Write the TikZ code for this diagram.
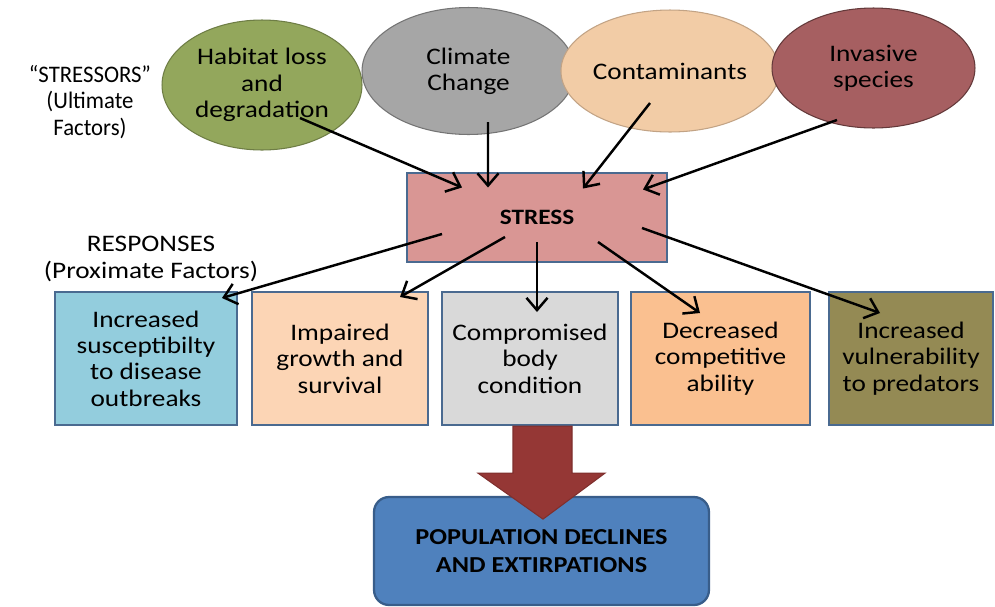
\documentclass[tikz,border=0pt]{standalone}
\usepackage{fontspec}
\setmainfont{Carlito}[FakeStretch=1.15]
\newfontfamily\narrowfont{Carlito}[FakeStretch=0.96, Ligatures=TeX]
\usepackage{xcolor}
\usetikzlibrary{arrows.meta, calc, shapes.geometric}

\definecolor{habgreen}{HTML}{93A75C}
\definecolor{climgray}{HTML}{A6A6A6}
\definecolor{contpeach}{HTML}{F2CCA6}
\definecolor{invred}{HTML}{A65F61}
\definecolor{stresspink}{HTML}{D99694}
\definecolor{boxline}{HTML}{4A6A90}
\definecolor{suscblue}{HTML}{93CDDD}
\definecolor{growthpeach}{HTML}{FCD5B5}
\definecolor{bodygray}{HTML}{D9D9D9}
\definecolor{compor}{HTML}{FAC090}
\definecolor{predolive}{HTML}{948A54}
\definecolor{bigred}{HTML}{953735}
\definecolor{popblue}{HTML}{4F81BD}
\definecolor{popline}{HTML}{385D8A}

\begin{document}
\begin{tikzpicture}[x=0.02cm, y=-0.02cm,
    txt/.style={font=\fontsize{13.5}{15}\selectfont, align=center},
    stressor/.style={ellipse, draw, txt, inner sep=0pt, line width=0.6pt},
    resp/.style={draw=boxline, line width=1.3pt, txt, inner sep=0pt,
        minimum height=2.66cm},
    lbl/.style={txt},
    arr/.style={-{Straight Barb[length=7pt,width=12pt]}, line width=1.4pt},
]
\useasboundingbox[fill=white] (0,0) rectangle (995,606);

% ---- stressors ----
\node[lbl, font=\fontsize{13.5}{15}\selectfont\narrowfont] (stressors)
    at (90,102) {“STRESSORS”\\(Ultimate\\Factors)};
\node[stressor, fill=habgreen, draw=habgreen!75!black,
    minimum width=4cm, minimum height=2.6cm] (hab) at (262,85)
    {Habitat loss\\and\\degradation};
\node[stressor, fill=climgray, draw=climgray!70!black,
    minimum width=4.26cm, minimum height=2.54cm] (clim) at (468.5,71)
    {Climate\\Change};
\node[stressor, fill=contpeach, draw=contpeach!80!black,
    minimum width=4.08cm, minimum height=2.44cm] (cont) at (670,71)
    {Contaminants};
\node[stressor, fill=invred, draw=invred!60!black,
    minimum width=4.06cm, minimum height=2.4cm] (inv) at (873.5,68)
    {Invasive\\species};

% ---- stress ----
\node[draw=boxline, line width=1.3pt, fill=stresspink,
    minimum width=5.2cm, minimum height=1.78cm,
    font=\fontsize{12.5}{15}\selectfont\bfseries] (stress) at (537,217.5)
    {STRESS};

% ---- responses ----
\node[lbl] (responses) at (151,259) {RESPONSES\\(Proximate Factors)};
\node[resp, fill=suscblue, minimum width=3.64cm] (susc) at (146,358.5)
    {Increased\\susceptibilty\\to disease\\outbreaks};
\node[resp, fill=growthpeach, minimum width=3.52cm] (growth) at (340,358.5)
    {Impaired\\growth and\\survival};
\node[resp, fill=bodygray, minimum width=3.52cm] (body) at (530,358.5)
    {Compromised\\body\\condition};
\node[resp, fill=compor, minimum width=3.58cm] (comp) at (720.5,358.5)
    {Decreased\\competitive\\ability};
\node[resp, fill=predolive, minimum width=3.28cm] (pred) at (911,358.5)
    {Increased\\vulnerability\\to predators};

% ---- outcome ----
\node[draw=popline, line width=1.3pt, fill=popblue, rounded corners=0.3cm,
    minimum width=6.7cm, minimum height=2.16cm,
    font=\fontsize{13}{15.5}\selectfont\bfseries, align=center] (pop)
    at (541.5,551) {POPULATION DECLINES\\AND EXTIRPATIONS};

% big block arrow from the responses down to the outcome
\begin{scope}[shift={(body.south)}]
\draw[fill=bigred, draw=bigred!85!black, line width=0.6pt]
    (-17,0) -- (42,0) -- (42,47) -- (75,47) -- (13,93)
    -- (-52,47) -- (-17,47) -- cycle;
\end{scope}

% stressors -> stress
\draw[arr] ($(hab)+(38,33)$) -- ($(stress)+(-75,-30)$);
\draw[arr] ($(clim)+(19.5,51)$) -- ($(stress)+(-49,-30)$);
\draw[arr] ($(cont)+(-20,32)$) -- ($(stress)+(46,-29)$);
\draw[arr] ($(inv)+(-36.5,52)$) -- ($(stress)+(106,-28)$);

% stress -> responses
\draw[arr] ($(stress)+(-95,16.5)$) -- ($(susc)+(76,-60.5)$);
\draw[arr] ($(stress)+(-32,19.5)$) -- ($(growth)+(60,-61.5)$);
\draw[arr] ($(stress)+(0,24.5)$) -- ($(body)+(7,-46.5)$);
\draw[arr] ($(stress)+(61,24.5)$) -- ($(comp)+(-20.5,-45.5)$);
\draw[arr] ($(stress)+(105,10.5)$) -- ($(pred)+(-31,-45.5)$);

\end{tikzpicture}
\end{document}
